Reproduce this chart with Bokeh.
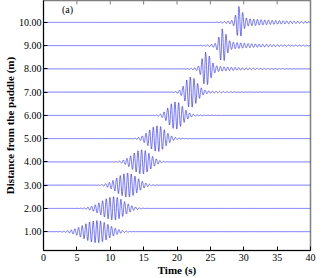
import numpy as np
from bokeh.plotting import figure
from bokeh.models import Range1d, Label, FixedTicker, PrintfTickFormatter
from bokeh.embed import file_html
from bokeh.resources import INLINE

# ---- data ----
distances = [1.0, 2.0, 3.0, 4.0, 5.0, 6.0, 7.0, 8.0, 9.0, 10.0]          # gauge position (m)
peak_time = [8.0, 10.5, 12.6, 14.7, 17.0, 19.7, 22.0, 24.3, 26.8, 29.3]  # time of largest crest (s)
peak_amp = [0.48, 0.50, 0.52, 0.52, 0.55, 0.58, 0.62, 0.66, 0.64, 0.60]  # crest height (offset units)
rise_width = [2.0, 1.8, 1.6, 1.4, 1.25, 1.0, 0.75, 0.5, 0.42, 0.38]      # envelope width before crest (s)
decay_width = [1.8, 1.6, 1.45, 1.3, 1.2, 1.1, 0.9, 0.6, 0.5, 0.45]       # envelope width after crest (s)
pre_amp = [0.0, 0.0, 0.0, 0.0, 0.0, 0.0, 0.05, 0.08, 0.10, 0.10]        # small leading ripple level
tail_amp = [0.0, 0.0, 0.0, 0.02, 0.04, 0.06, 0.12, 0.18, 0.20, 0.20]    # trailing ripple level
tail_len = [1.0, 1.0, 1.0, 1.5, 2.0, 2.5, 3.0, 4.0, 5.0, 6.0]           # trailing ripple decay (s)
wave_period = 0.55                                                       # carrier period (s)
x_ticks = [0, 5, 10, 15, 20, 25, 30, 35, 40]
y_ticks = distances

Y_TOP = 10.94
t = np.arange(0.0, 40.0001, 0.02)

p = figure(width=322, height=278, output_backend="svg", toolbar_location=None,
           x_range=Range1d(0, 40), y_range=Range1d(0.19, Y_TOP),
           min_border_left=40, min_border_right=12, min_border_top=0, min_border_bottom=26)
p.xgrid.visible = False
p.ygrid.visible = False
p.outline_line_color = "#808080"
p.outline_line_width = 1.5
p.background_fill_color = "white"

xs, ys = [], []
for i, d in enumerate(distances):
    tc = peak_time[i]
    dt = t - tc
    s = np.where(dt < 0, rise_width[i], decay_width[i])
    env = peak_amp[i] * np.exp(-dt ** 2 / (2 * s ** 2))
    env += pre_amp[i] * np.exp(-dt ** 2 / (2 * 1.5 ** 2)) * (dt < 0)
    pos = np.clip(dt, 0, None)
    env += tail_amp[i] * np.exp(-pos / tail_len[i]) * (dt > 0) * (1 - np.exp(-pos / 0.4))
    eta = env * np.cos(2 * np.pi * dt / wave_period)
    xs.append(t)
    ys.append(d + eta)

p.multi_line(xs=xs, ys=ys, line_color="#1a1aff", line_width=0.6)

# inward ticks along the top edge
p.scatter(x=x_ticks, y=[Y_TOP] * len(x_ticks), marker="dash", angle=np.pi / 2,
          size=8, line_color="#808080", line_width=1)

font = "'Liberation Serif'"
for ax in [p.xaxis[0], p.yaxis[0]]:
    ax.major_tick_in = 4
    ax.major_tick_out = 0
    ax.minor_tick_in = 0
    ax.minor_tick_out = 0
    ax.axis_line_color = "black"
    ax.major_tick_line_color = "black"
    ax.major_label_text_font = font
    ax.major_label_text_font_size = "10px"
    ax.major_label_text_color = "black"
    ax.major_label_standoff = 2
    ax.axis_label_text_font = font
    ax.axis_label_text_font_size = "11px"
    ax.axis_label_text_font_style = "bold"
    ax.axis_label_text_color = "black"
    ax.axis_label_standoff = 0
p.xaxis.major_label_standoff = 3
p.xaxis.ticker = FixedTicker(ticks=x_ticks)
p.yaxis.ticker = FixedTicker(ticks=y_ticks)
p.yaxis.formatter = PrintfTickFormatter(format="%.2f")
p.xaxis.axis_label = "Time (s)"
p.yaxis.axis_label = "Distance from the paddle (m)"

p.add_layout(Label(x=3.6, x_units="data", y=10.81, y_units="data",
                   text="(a)", text_align="center", text_baseline="top",
                   text_font=font, text_font_size="10px",
                   text_color="black"))

open("out.html", "w").write(file_html(p, INLINE))
